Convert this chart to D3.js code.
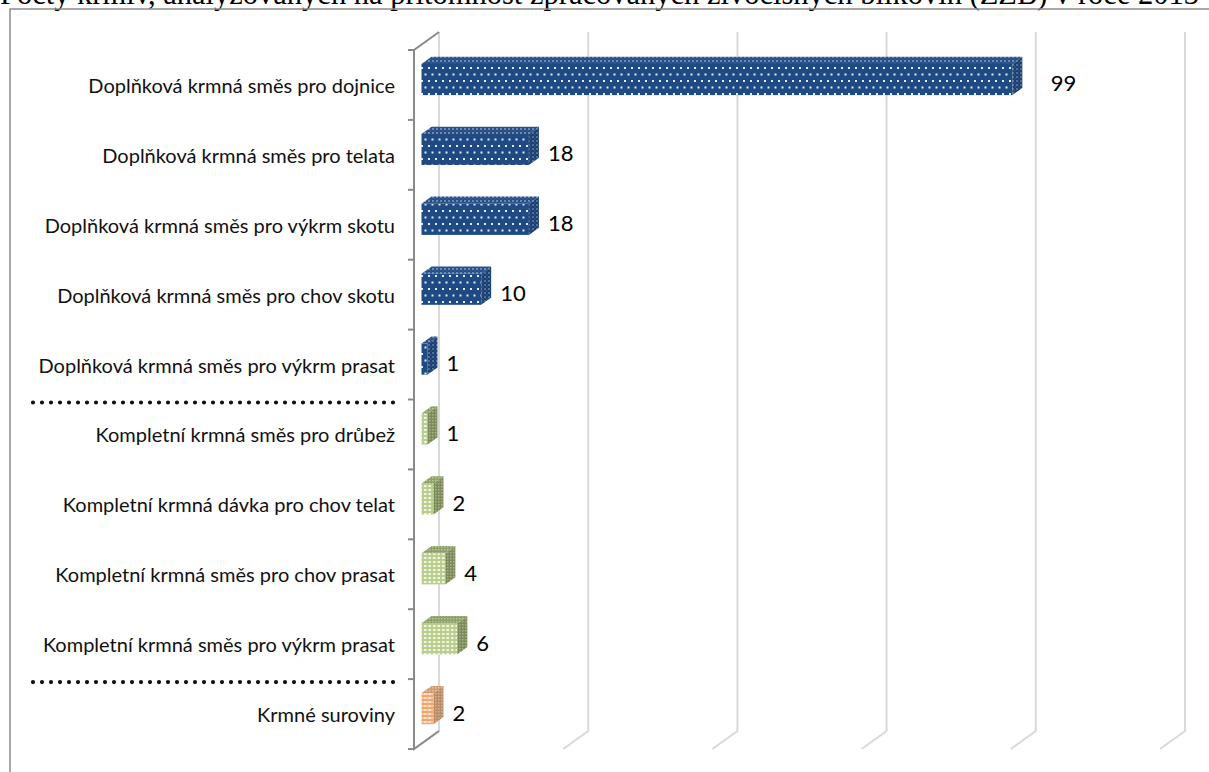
<!DOCTYPE html>
<html lang="cs">
<head>
<meta charset="utf-8">
<title>Počty krmiv</title>
<script src="https://cdn.jsdelivr.net/npm/d3@7"></script>
<style>
  html, body { margin: 0; padding: 0; background: #fff; }
  svg { display: block; }
</style>
</head>
<body>
<svg id="chart" width="1209" height="772"></svg>
<script>
// Feed categories (top to bottom), counts of analysed samples and feed group
const categories = [
  "Doplňková krmná směs pro dojnice",
  "Doplňková krmná směs pro telata",
  "Doplňková krmná směs pro výkrm skotu",
  "Doplňková krmná směs pro chov skotu",
  "Doplňková krmná směs pro výkrm prasat",
  "Kompletní krmná směs pro drůbež",
  "Kompletní krmná dávka pro chov telat",
  "Kompletní krmná směs pro chov prasat",
  "Kompletní krmná směs pro výkrm prasat",
  "Krmné suroviny"
];
const values = [99, 18, 18, 10, 1, 1, 2, 4, 6, 2];
const groups = ["doplnkova", "doplnkova", "doplnkova", "doplnkova", "doplnkova",
                "kompletni", "kompletni", "kompletni", "kompletni", "suroviny"];
const xTicks = [0, 25, 50, 75, 100, 125];
const titleText = "Počty krmiv, analyzovaných na přítomnost zpracovaných živočišných bílkovin (ZŽB) v roce 2013";

const svg = d3.select("#chart");
const W = 1209, H = 772;

// Plot geometry: front plane of the 3-D box and its depth offset
const front = { left: 414, top: 50, bottom: 749 };
const depth = { dx: 25, dy: -18 };
const barDepth = [0.3, 0.7];           // bar occupies this slice of the depth

const x = d3.scaleLinear().domain([0, 125]).range([front.left, front.left + 746]);
const y = d3.scaleBand().domain(categories).range([front.top, front.bottom])
  .paddingInner(0.555).paddingOuter(0.2775);
const yStep = d3.scaleBand().domain(categories).range([front.top, front.bottom]);

// Patterns for the three feed groups
const defs = svg.append("defs");
function pat(id, w, h, bg, shapes) {
  const p = defs.append("pattern").attr("id", id).attr("patternUnits", "userSpaceOnUse")
    .attr("width", w).attr("height", h);
  p.append("rect").attr("width", w).attr("height", h).attr("fill", bg);
  shapes.forEach(s => p.append("rect").attr("x", s[0]).attr("y", s[1])
    .attr("width", s[2]).attr("height", s[3]).attr("fill", s[4]));
}
pat("blueFront", 7, 13, "#1f4a84", [[1, 2, 2, 2, "#e4ecf6"], [4.5, 8.5, 2, 2, "#e4ecf6"]]);
pat("blueSide", 4, 4, "#1c3f6e", [[0, 0, 2, 2, "#4f6f9c"], [2, 2, 1.5, 1.5, "#2f5486"]]);
pat("blueTop", 4, 4, "#274f85", [[0, 0, 2, 2, "#6a88b4"], [2, 2, 1.5, 1.5, "#35598c"]]);
pat("greenFront", 4.5, 4, "#b9cd8c", [[1, 1, 2.5, 2, "#f2f7e6"]]);
pat("greenSide", 3, 3, "#7c8a5d", [[0, 0, 1.5, 1.5, "#a6b586"]]);
pat("greenTop", 3, 3, "#8e9f69", [[0, 0, 1.5, 1.5, "#b7c699"]]);
pat("orangeFront", 4.5, 4, "#f2a66e", [[0.5, 1, 3.5, 2, "#fde3cf"]]);
pat("orangeSide", 3, 3, "#b98c69", [[0, 0, 1.5, 1.5, "#d9b090"]]);
pat("orangeTop", 3, 3, "#cf9a6f", [[0, 0, 1.5, 1.5, "#ebc3a3"]]);

const fills = {
  doplnkova: { front: "url(#blueFront)", side: "url(#blueSide)", top: "url(#blueTop)" },
  kompletni: { front: "url(#greenFront)", side: "url(#greenSide)", top: "url(#greenTop)" },
  suroviny:  { front: "url(#orangeFront)", side: "url(#orangeSide)", top: "url(#orangeTop)" }
};

// Title, running along the top edge of the page
svg.append("text").attr("x", 0).attr("y", 4)
  .attr("font-family", "'Liberation Serif', 'Times New Roman', serif")
  .attr("font-size", 30.5).attr("fill", "#000").text(titleText);

// Chart frame
svg.append("rect").attr("x", 10).attr("y", 9).attr("width", W + 50).attr("height", H + 50)
  .attr("fill", "none").attr("stroke", "#8c8c8c").attr("stroke-width", 1.5);

// Back wall gridlines with their floor continuation
const grid = svg.append("g").attr("stroke", "#d9d9d9").attr("stroke-width", 2).attr("fill", "none");
xTicks.forEach(t => {
  const bx = x(t) + depth.dx;
  grid.append("path").attr("d", d3.line()([
    [bx, front.top + depth.dy], [bx, front.bottom + depth.dy], [x(t), front.bottom]
  ]));
});

// Category axis on the left wall
const axis = svg.append("g").attr("stroke", "#8a8a8a").attr("stroke-width", 2).attr("fill", "none");
axis.append("path").attr("d", d3.line()([
  [front.left + depth.dx, front.top + depth.dy], [front.left, front.top],
  [front.left, front.bottom], [front.left + depth.dx, front.bottom + depth.dy]
]));
const boundaries = categories.map(c => yStep(c)).concat([front.bottom]);
boundaries.forEach(b => {
  axis.append("line").attr("x1", front.left - 6).attr("x2", front.left).attr("y1", b).attr("y2", b);
});

// Category labels
svg.append("g").selectAll("text").data(categories).join("text")
  .attr("x", 395).attr("y", d => yStep(d) + yStep.bandwidth() / 2)
  .attr("text-anchor", "end").attr("dominant-baseline", "central")
  .attr("font-family", "Lato, 'Open Sans', sans-serif").attr("font-size", 20)
  .attr("fill", "#111").text(d => d);

// Dotted separators between feed groups
const seps = svg.append("g").attr("stroke", "#111").attr("stroke-width", 4.2)
  .attr("stroke-linecap", "round").attr("stroke-dasharray", "0,9");
groups.forEach((g, i) => {
  if (i > 0 && g !== groups[i - 1]) {
    const yy = yStep(categories[i]) + 3;
    seps.append("line").attr("x1", 33).attr("x2", 395).attr("y1", yy).attr("y2", yy);
  }
});

// 3-D bars
const d0x = depth.dx * barDepth[0], d0y = depth.dy * barDepth[0];
const ddx = depth.dx * (barDepth[1] - barDepth[0]), ddy = depth.dy * (barDepth[1] - barDepth[0]);
const bars = svg.append("g");
categories.forEach((c, i) => {
  const f = fills[groups[i]];
  const x0 = x(0) + d0x, x1 = x(values[i]) + d0x;
  const yt = y(c) + d0y, yb = y(c) + y.bandwidth() + d0y;
  const g = bars.append("g");
  g.append("rect").attr("x", x0).attr("y", yt).attr("width", x1 - x0).attr("height", yb - yt)
    .attr("fill", f.front);
  g.append("path").attr("fill", f.top).attr("d", d3.line()([
    [x0, yt], [x1, yt], [x1 + ddx, yt + ddy], [x0 + ddx, yt + ddy]
  ]) + "Z");
  g.append("path").attr("fill", f.side).attr("d", d3.line()([
    [x1, yt], [x1 + ddx, yt + ddy], [x1 + ddx, yb + ddy], [x1, yb]
  ]) + "Z");
});

// Value labels, stepped past a gridline when they would sit on it
const labelFont = 22;
svg.append("g").selectAll("text").data(values).join("text")
  .attr("x", (v) => {
    let lx = x(v) + d0x + ddx + 9;
    const width = String(v).length * labelFont * 0.58;
    xTicks.forEach(t => {
      const gx = x(t) + depth.dx;
      if (t > 0 && gx >= lx - 2 && gx <= lx + width) lx = gx + 15;
    });
    return lx;
  })
  .attr("y", (v, i) => yStep(categories[i]) + yStep.bandwidth() / 2 - 2)
  .attr("dominant-baseline", "central")
  .attr("font-family", "Lato, 'Open Sans', sans-serif").attr("font-size", labelFont)
  .attr("fill", "#000").text(v => v);
</script>
</body>
</html>
